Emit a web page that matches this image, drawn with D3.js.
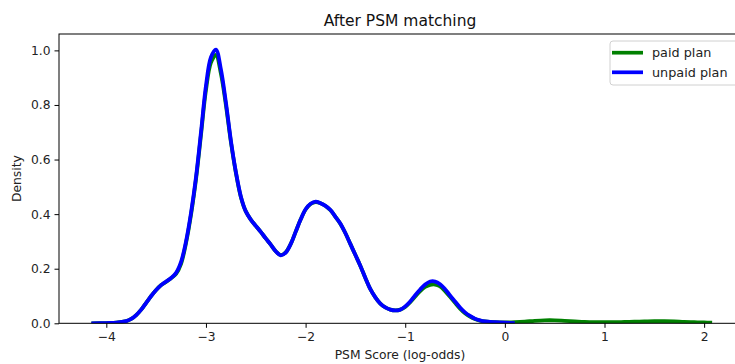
<!DOCTYPE html>
<html>
<head>
<meta charset="utf-8">
<script src="https://cdn.jsdelivr.net/npm/d3@7"></script>
<style>
  html, body { margin: 0; padding: 0; background: #ffffff; }
  svg { display: block; font-family: "DejaVu Sans", sans-serif; }
</style>
</head>
<body>
<svg id="chart" width="735" height="364"></svg>
<script>
// KDE of PSM scores (log-odds) after matching, sampled on a common grid
const scoreGrid = [
  -4.15, -4.0, -3.9, -3.8, -3.75, -3.7, -3.65, -3.6, -3.55, -3.5,
  -3.45, -3.4, -3.35, -3.3, -3.25, -3.2, -3.15, -3.1, -3.05, -3.0,
  -2.95, -2.9, -2.85, -2.8, -2.75, -2.7, -2.65, -2.6, -2.55, -2.5,
  -2.45, -2.4, -2.35, -2.3, -2.25, -2.2, -2.15, -2.1, -2.05, -2.0,
  -1.95, -1.9, -1.85, -1.8, -1.75, -1.7, -1.65, -1.6, -1.55, -1.5,
  -1.45, -1.4, -1.35, -1.3, -1.25, -1.2, -1.15, -1.1, -1.05, -1.0,
  -0.95, -0.9, -0.85, -0.8, -0.75, -0.7, -0.65, -0.6, -0.55, -0.5,
  -0.45, -0.4, -0.35, -0.3, -0.25, -0.2, -0.1, 0.0, 0.1
];

const unpaidDensity = [
  0.000, 0.001, 0.002, 0.008, 0.016, 0.030, 0.050, 0.075, 0.100, 0.122,
  0.140, 0.153, 0.166, 0.185, 0.225, 0.300, 0.405, 0.535, 0.700, 0.870,
  0.975, 1.003, 0.930, 0.810, 0.670, 0.555, 0.465, 0.410, 0.380, 0.357,
  0.335, 0.311, 0.288, 0.264, 0.249, 0.259, 0.290, 0.335, 0.380, 0.418,
  0.438, 0.446, 0.440, 0.430, 0.415, 0.390, 0.365, 0.330, 0.290, 0.250,
  0.210, 0.166, 0.125, 0.095, 0.072, 0.058, 0.050, 0.047, 0.050, 0.062,
  0.080, 0.103, 0.124, 0.142, 0.153, 0.153, 0.143, 0.125, 0.102, 0.080,
  0.058, 0.040, 0.027, 0.017, 0.011, 0.007, 0.004, 0.002, 0.001
];

const paidDensity = [
  0.000, 0.001, 0.002, 0.008, 0.016, 0.030, 0.050, 0.075, 0.100, 0.122,
  0.140, 0.152, 0.165, 0.181, 0.218, 0.295, 0.398, 0.528, 0.690, 0.855,
  0.955, 0.983, 0.915, 0.800, 0.665, 0.552, 0.463, 0.410, 0.380, 0.357,
  0.335, 0.311, 0.288, 0.264, 0.250, 0.260, 0.290, 0.335, 0.380, 0.417,
  0.437, 0.444, 0.440, 0.430, 0.414, 0.390, 0.364, 0.330, 0.290, 0.250,
  0.210, 0.166, 0.125, 0.095, 0.072, 0.058, 0.050, 0.047, 0.050, 0.060,
  0.077, 0.098, 0.118, 0.133, 0.141, 0.142, 0.135, 0.118, 0.097, 0.075,
  0.054, 0.037, 0.025, 0.016, 0.010, 0.007, 0.004, 0.003, 0.004
];

// the paid-plan density continues past the unpaid range
const paidTailScore = [0.2, 0.3, 0.4, 0.5, 0.6, 0.7, 0.8, 0.9, 1.0, 1.1, 1.2, 1.3, 1.4, 1.5, 1.6, 1.7, 1.8, 1.9, 2.0, 2.08];
const paidTailDensity = [0.006, 0.009, 0.011, 0.011, 0.009, 0.007, 0.005, 0.004, 0.004, 0.004, 0.005, 0.006, 0.007, 0.008, 0.008, 0.007, 0.005, 0.004, 0.003, 0.002];

const xTicks = [-4, -3, -2, -1, 0, 1, 2];
const yTicks = [0.0, 0.2, 0.4, 0.6, 0.8, 1.0];

const seriesNames = ["paid plan", "unpaid plan"];
const seriesColors = ["#008000", "#0000ff"];

const svg = d3.select("#chart");
const plot = { left: 59, right: 741, top: 34, bottom: 323.3 };

const x = d3.scaleLinear().domain([-4.475, 2.37]).range([plot.left, plot.right]);
const y = d3.scaleLinear().domain([0, 1.06]).range([plot.bottom, plot.top]);

const paidPoints = scoreGrid.map((s, i) => [s, paidDensity[i]])
  .concat(paidTailScore.map((s, i) => [s, paidTailDensity[i]]));
const unpaidPoints = scoreGrid.map((s, i) => [s, unpaidDensity[i]]);

const line = d3.line()
  .x(d => x(d[0]))
  .y(d => y(d[1]))
  .curve(d3.curveCatmullRom.alpha(0.5));

svg.append("clipPath").attr("id", "plotclip")
  .append("rect")
  .attr("x", plot.left).attr("y", plot.top - 5)
  .attr("width", plot.right - plot.left).attr("height", plot.bottom - plot.top + 5);

const curves = svg.append("g").attr("clip-path", "url(#plotclip)");
[paidPoints, unpaidPoints].forEach((pts, i) => {
  curves.append("path")
    .datum(pts)
    .attr("d", line)
    .attr("fill", "none")
    .attr("stroke", seriesColors[i])
    .attr("stroke-width", 3.8)
    .attr("stroke-linejoin", "round")
    .attr("stroke-linecap", "butt");
});

// axes
const fmtMinus = v => String(v).replace("-", "\u2212");
const xAxis = d3.axisBottom(x).tickValues(xTicks).tickSize(4.5).tickPadding(4)
  .tickFormat(d => fmtMinus(d));
const yAxis = d3.axisLeft(y).tickValues(yTicks).tickSize(4.5).tickPadding(4)
  .tickFormat(d3.format(".1f"));

const gx = svg.append("g").attr("transform", `translate(0,${plot.bottom})`).call(xAxis);
const gy = svg.append("g").attr("transform", `translate(${plot.left},0)`).call(yAxis);
[gx, gy].forEach(g => {
  g.select(".domain").remove();
  g.selectAll(".tick line").attr("stroke", "#000").attr("stroke-width", 1);
  g.selectAll(".tick text").attr("fill", "#222").attr("font-size", 12.3)
    .attr("font-family", "DejaVu Sans, sans-serif");
});

// frame
svg.append("rect")
  .attr("x", plot.left).attr("y", plot.top)
  .attr("width", plot.right - plot.left).attr("height", plot.bottom - plot.top)
  .attr("fill", "none").attr("stroke", "#000").attr("stroke-width", 1);

// labels
svg.append("text")
  .attr("x", (plot.left + plot.right) / 2).attr("y", 25.5)
  .attr("text-anchor", "middle").attr("font-size", 15.5).attr("fill", "#111")
  .text("After PSM matching");

svg.append("text")
  .attr("x", (plot.left + plot.right) / 2).attr("y", 359)
  .attr("text-anchor", "middle").attr("font-size", 12.3).attr("fill", "#222")
  .text("PSM Score (log-odds)");

svg.append("text")
  .attr("transform", `translate(21,${(plot.top + plot.bottom) / 2}) rotate(-90)`)
  .attr("text-anchor", "middle").attr("font-size", 12.3).attr("fill", "#222")
  .text("Density");

// legend
const legend = svg.append("g").attr("transform", "translate(610,41)");
legend.append("rect")
  .attr("x", 0).attr("y", 0).attr("width", 128).attr("height", 44)
  .attr("rx", 3).attr("fill", "#ffffff").attr("fill-opacity", 0.8)
  .attr("stroke", "#d0d0d0").attr("stroke-width", 1);
seriesNames.forEach((name, i) => {
  const yy = 11.7 + i * 19.6;
  legend.append("line")
    .attr("x1", 2).attr("x2", 33).attr("y1", yy).attr("y2", yy)
    .attr("stroke", seriesColors[i]).attr("stroke-width", 3.7);
  legend.append("text")
    .attr("x", 42).attr("y", yy + 4.5)
    .attr("font-size", 12.8).attr("fill", "#222")
    .text(name);
});
</script>
</body>
</html>
